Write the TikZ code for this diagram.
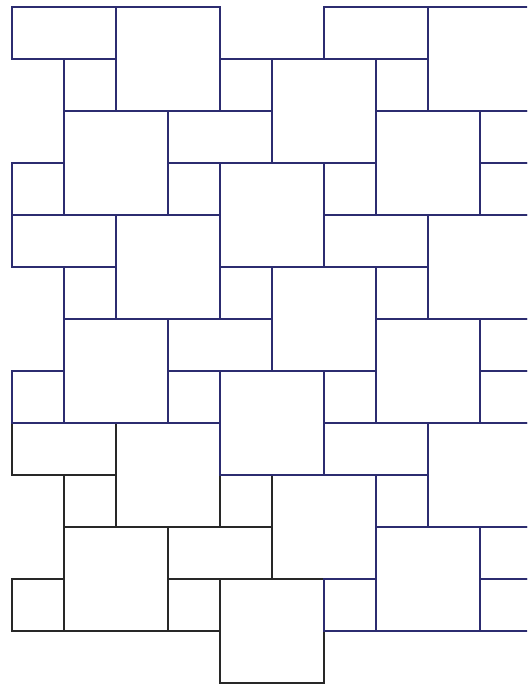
\documentclass[tikz,border=0pt]{standalone}
\definecolor{tileblue}{RGB}{44,44,112}
\definecolor{tileblack}{RGB}{40,40,40}
\begin{document}
\begin{tikzpicture}[y=-1cm, tile/.style={line width=1.5pt, line join=miter}]
      \useasboundingbox (-0.231,-0.135) rectangle (9.904,13.096);
      \clip (-0.231,-0.135) rectangle (9.904,13.096);
      % period of 6 x 4 units, the black one first, the blue ones over it
      \foreach \dx/\dy/\col in {0/8/tileblack, 0/0/tileblue, 6/0/tileblue, 0/4/tileblue, 6/4/tileblue, 6/8/tileblue}
        \foreach \x/\y/\w/\h in {0/0/2/1, 2/0/2/2, 1/1/1/1, 4/1/1/1, 5/1/2/2,
                                 1/2/2/2, 3/2/2/1, 0/3/1/1, 3/3/1/1, 4/3/2/2}
          \draw[tile, draw=\col] (\dx+\x,\dy+\y) rectangle ++(\w,\h);
    \end{tikzpicture}
\end{document}
